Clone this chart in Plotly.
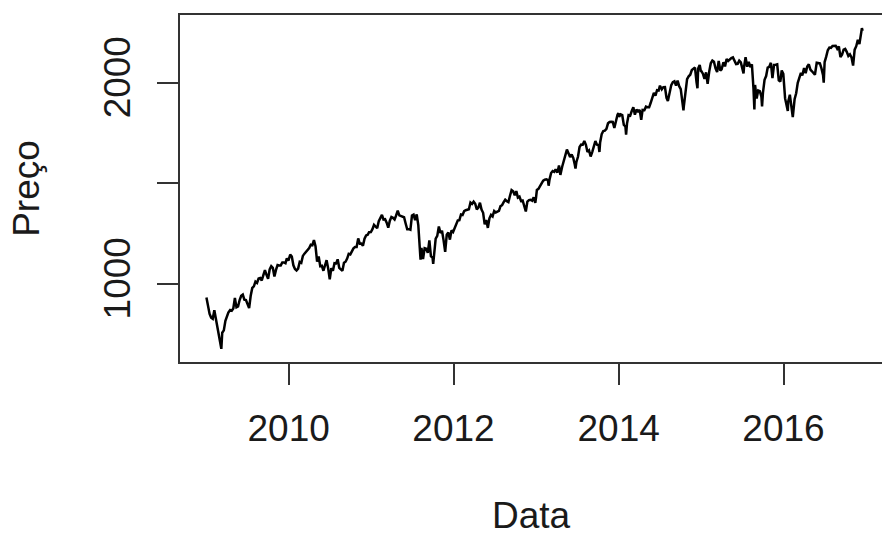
import plotly.graph_objects as go
import pandas as pd

# Weekly closing prices of the index, 2009-2016
week_dates = [
    # 2009
    "2009-01-02", "2009-01-09", "2009-01-16", "2009-01-23", "2009-01-30", "2009-02-06",
    "2009-02-13", "2009-02-20", "2009-02-27", "2009-03-06", "2009-03-09", "2009-03-13",
    "2009-03-20", "2009-03-27", "2009-04-03", "2009-04-09", "2009-04-17", "2009-04-24",
    "2009-05-01", "2009-05-08", "2009-05-15", "2009-05-22", "2009-05-29", "2009-06-05",
    "2009-06-12", "2009-06-19", "2009-06-26", "2009-07-02", "2009-07-10", "2009-07-17",
    "2009-07-24", "2009-07-31", "2009-08-07", "2009-08-14", "2009-08-21", "2009-08-28",
    "2009-09-04", "2009-09-11", "2009-09-18", "2009-09-25", "2009-10-02", "2009-10-09",
    "2009-10-16", "2009-10-23", "2009-10-30", "2009-11-06", "2009-11-13", "2009-11-20",
    "2009-11-27", "2009-12-04", "2009-12-11", "2009-12-18", "2009-12-24", "2009-12-31",
    # 2010
    "2010-01-08", "2010-01-15", "2010-01-22", "2010-01-29", "2010-02-05", "2010-02-12",
    "2010-02-19", "2010-02-26", "2010-03-05", "2010-03-12", "2010-03-19", "2010-03-26",
    "2010-04-02", "2010-04-09", "2010-04-16", "2010-04-23", "2010-04-30", "2010-05-07",
    "2010-05-14", "2010-05-21", "2010-05-28", "2010-06-04", "2010-06-11", "2010-06-18",
    "2010-06-25", "2010-07-02", "2010-07-09", "2010-07-16", "2010-07-23", "2010-07-30",
    "2010-08-06", "2010-08-13", "2010-08-20", "2010-08-27", "2010-09-03", "2010-09-10",
    "2010-09-17", "2010-09-24", "2010-10-01", "2010-10-08", "2010-10-15", "2010-10-22",
    "2010-10-29", "2010-11-05", "2010-11-12", "2010-11-19", "2010-11-26", "2010-12-03",
    "2010-12-10", "2010-12-17", "2010-12-23", "2010-12-31",
    # 2011
    "2011-01-07", "2011-01-14", "2011-01-21", "2011-01-28", "2011-02-04", "2011-02-11",
    "2011-02-18", "2011-02-25", "2011-03-04", "2011-03-11", "2011-03-18", "2011-03-25",
    "2011-04-01", "2011-04-08", "2011-04-15", "2011-04-21", "2011-04-29", "2011-05-06",
    "2011-05-13", "2011-05-20", "2011-05-27", "2011-06-03", "2011-06-10", "2011-06-17",
    "2011-06-24", "2011-07-01", "2011-07-08", "2011-07-15", "2011-07-22", "2011-07-29",
    "2011-08-05", "2011-08-08", "2011-08-12", "2011-08-19", "2011-08-26", "2011-09-02",
    "2011-09-09", "2011-09-16", "2011-09-23", "2011-09-30", "2011-10-03", "2011-10-07",
    "2011-10-14", "2011-10-21", "2011-10-28", "2011-11-04", "2011-11-11", "2011-11-18",
    "2011-11-25", "2011-12-02", "2011-12-09", "2011-12-16", "2011-12-23", "2011-12-30",
    # 2012
    "2012-01-06", "2012-01-13", "2012-01-20", "2012-01-27", "2012-02-03", "2012-02-10",
    "2012-02-17", "2012-02-24", "2012-03-02", "2012-03-09", "2012-03-16", "2012-03-23",
    "2012-03-30", "2012-04-06", "2012-04-13", "2012-04-20", "2012-04-27", "2012-05-04",
    "2012-05-11", "2012-05-18", "2012-05-25", "2012-06-01", "2012-06-08", "2012-06-15",
    "2012-06-22", "2012-06-29", "2012-07-06", "2012-07-13", "2012-07-20", "2012-07-27",
    "2012-08-03", "2012-08-10", "2012-08-17", "2012-08-24", "2012-08-31", "2012-09-07",
    "2012-09-14", "2012-09-21", "2012-09-28", "2012-10-05", "2012-10-12", "2012-10-19",
    "2012-10-26", "2012-11-02", "2012-11-09", "2012-11-16", "2012-11-23", "2012-11-30",
    "2012-12-07", "2012-12-14", "2012-12-21", "2012-12-28", "2012-12-31",
    # 2013
    "2013-01-04", "2013-01-11", "2013-01-18", "2013-01-25", "2013-02-01", "2013-02-08",
    "2013-02-15", "2013-02-22", "2013-02-25", "2013-03-01", "2013-03-08", "2013-03-15",
    "2013-03-22", "2013-03-28", "2013-04-05", "2013-04-12", "2013-04-18", "2013-04-26",
    "2013-05-03", "2013-05-10", "2013-05-17", "2013-05-24", "2013-05-31", "2013-06-07",
    "2013-06-14", "2013-06-21", "2013-06-24", "2013-06-28", "2013-07-05", "2013-07-12",
    "2013-07-19", "2013-07-26", "2013-08-02", "2013-08-09", "2013-08-16", "2013-08-23",
    "2013-08-30", "2013-09-06", "2013-09-13", "2013-09-20", "2013-09-27", "2013-10-04",
    "2013-10-08", "2013-10-11", "2013-10-18", "2013-10-25", "2013-11-01", "2013-11-08",
    "2013-11-15", "2013-11-22", "2013-11-29", "2013-12-06", "2013-12-13", "2013-12-20",
    "2013-12-27", "2013-12-31",
    # 2014
    "2014-01-03", "2014-01-10", "2014-01-17", "2014-01-24", "2014-01-31", "2014-02-03",
    "2014-02-07", "2014-02-14", "2014-02-21", "2014-02-28", "2014-03-07", "2014-03-14",
    "2014-03-21", "2014-03-28", "2014-04-04", "2014-04-11", "2014-04-17", "2014-04-25",
    "2014-05-02", "2014-05-09", "2014-05-16", "2014-05-23", "2014-05-30", "2014-06-06",
    "2014-06-13", "2014-06-20", "2014-06-27", "2014-07-03", "2014-07-11", "2014-07-18",
    "2014-07-25", "2014-08-01", "2014-08-07", "2014-08-15", "2014-08-22", "2014-08-29",
    "2014-09-05", "2014-09-12", "2014-09-19", "2014-09-26", "2014-10-03", "2014-10-10",
    "2014-10-15", "2014-10-17", "2014-10-24", "2014-10-31", "2014-11-07", "2014-11-14",
    "2014-11-21", "2014-11-28", "2014-12-05", "2014-12-12", "2014-12-16", "2014-12-19",
    "2014-12-26", "2014-12-31",
    # 2015
    "2015-01-02", "2015-01-09", "2015-01-16", "2015-01-23", "2015-01-30", "2015-02-06",
    "2015-02-13", "2015-02-20", "2015-02-27", "2015-03-06", "2015-03-13", "2015-03-20",
    "2015-03-27", "2015-04-02", "2015-04-10", "2015-04-17", "2015-04-24", "2015-05-01",
    "2015-05-08", "2015-05-15", "2015-05-22", "2015-05-29", "2015-06-05", "2015-06-12",
    "2015-06-19", "2015-06-26", "2015-07-02", "2015-07-08", "2015-07-10", "2015-07-17",
    "2015-07-24", "2015-07-31", "2015-08-07", "2015-08-14", "2015-08-21", "2015-08-25",
    "2015-08-28", "2015-09-04", "2015-09-11", "2015-09-18", "2015-09-25", "2015-09-28",
    "2015-10-02", "2015-10-09", "2015-10-16", "2015-10-23", "2015-10-30", "2015-11-06",
    "2015-11-13", "2015-11-20", "2015-11-27", "2015-12-04", "2015-12-11", "2015-12-18",
    "2015-12-24", "2015-12-31",
    # 2016
    "2016-01-08", "2016-01-15", "2016-01-20", "2016-01-22", "2016-01-29", "2016-02-05",
    "2016-02-11", "2016-02-19", "2016-02-26", "2016-03-04", "2016-03-11", "2016-03-18",
    "2016-03-24", "2016-04-01", "2016-04-08", "2016-04-15", "2016-04-22", "2016-04-29",
    "2016-05-06", "2016-05-13", "2016-05-19", "2016-05-27", "2016-06-03", "2016-06-10",
    "2016-06-17", "2016-06-24", "2016-06-27", "2016-07-01", "2016-07-08", "2016-07-15",
    "2016-07-22", "2016-07-29", "2016-08-05", "2016-08-12", "2016-08-19", "2016-08-26",
    "2016-09-02", "2016-09-09", "2016-09-16", "2016-09-23", "2016-09-30", "2016-10-07",
    "2016-10-14", "2016-10-21", "2016-10-28", "2016-11-04", "2016-11-11", "2016-11-18",
    "2016-11-25", "2016-12-02", "2016-12-09", "2016-12-13", "2016-12-16",
]

close_prices = [
    # 2009
    931.8, 890.4, 850.1, 831.9, 825.9, 868.6,
    826.8, 770.1, 735.1, 683.4, 676.5, 756.6,
    768.5, 815.9, 842.5, 856.6, 869.6, 866.2,
    877.5, 929.2, 882.9, 887.0, 919.1, 940.1,
    946.2, 921.2, 918.9, 896.4, 879.1, 940.4,
    979.3, 987.5, 1010.5, 1004.1, 1026.1, 1028.9,
    1016.4, 1042.7, 1068.3, 1044.4, 1025.2, 1071.5,
    1087.7, 1079.6, 1036.2, 1069.3, 1093.5, 1091.4,
    1091.5, 1105.9, 1106.4, 1102.5, 1126.5, 1115.1,
    # 2010
    1145.0, 1136.0, 1091.8, 1073.9, 1066.2, 1075.5,
    1109.2, 1104.5, 1138.7, 1150.0, 1159.9, 1166.6,
    1178.1, 1194.4, 1192.1, 1217.3, 1186.7, 1110.9,
    1135.7, 1087.7, 1089.4, 1064.9, 1091.6, 1117.5,
    1076.8, 1022.6, 1078.0, 1064.9, 1102.7, 1101.6,
    1121.6, 1079.3, 1071.7, 1064.6, 1104.5, 1109.6,
    1125.6, 1148.7, 1146.2, 1165.2, 1176.2, 1183.1,
    1183.3, 1225.9, 1199.2, 1199.7, 1189.4, 1224.7,
    1240.4, 1243.9, 1256.8, 1257.6,
    # 2011
    1271.5, 1293.2, 1283.4, 1276.3, 1310.9, 1329.2,
    1343.0, 1319.9, 1321.2, 1304.3, 1279.2, 1313.8,
    1332.4, 1328.2, 1319.7, 1337.4, 1363.6, 1340.2,
    1337.8, 1333.3, 1331.1, 1300.2, 1271.0, 1271.5,
    1268.4, 1339.7, 1344.0, 1316.1, 1345.0, 1292.3,
    1199.4, 1119.5, 1178.8, 1123.5, 1176.8, 1174.0,
    1154.2, 1216.0, 1136.4, 1131.4, 1099.2, 1155.5,
    1224.6, 1238.3, 1285.1, 1253.2, 1263.9, 1216.0,
    1158.7, 1244.3, 1255.2, 1219.7, 1265.3, 1257.6,
    # 2012
    1277.8, 1289.1, 1315.4, 1316.3, 1344.9, 1342.6,
    1361.2, 1365.7, 1370.0, 1370.9, 1404.2, 1397.1,
    1408.5, 1398.1, 1370.3, 1378.5, 1403.4, 1369.1,
    1353.4, 1295.2, 1317.8, 1278.0, 1325.7, 1342.8,
    1335.0, 1362.2, 1354.7, 1356.8, 1362.7, 1386.0,
    1391.0, 1405.9, 1418.2, 1411.1, 1406.6, 1437.9,
    1465.8, 1460.2, 1440.7, 1460.9, 1428.6, 1433.2,
    1411.9, 1414.2, 1379.9, 1359.9, 1409.2, 1416.2,
    1418.1, 1413.6, 1430.2, 1402.4, 1426.2,
    # 2013
    1466.5, 1472.1, 1486.0, 1503.0, 1513.2, 1517.9,
    1519.8, 1515.6, 1487.9, 1518.2, 1551.2, 1560.7,
    1556.9, 1569.2, 1553.3, 1588.9, 1541.6, 1582.2,
    1614.4, 1633.7, 1667.5, 1649.6, 1630.7, 1643.4,
    1626.7, 1592.4, 1573.1, 1606.3, 1631.9, 1680.2,
    1692.1, 1691.7, 1709.7, 1691.4, 1655.8, 1663.5,
    1633.0, 1655.2, 1688.0, 1709.9, 1691.8, 1690.5,
    1655.5, 1703.2, 1744.5, 1759.8, 1761.6, 1770.6,
    1798.2, 1804.8, 1805.8, 1805.1, 1775.3, 1818.3,
    1841.4, 1848.4,
    # 2014
    1831.4, 1842.4, 1838.7, 1790.3, 1782.6, 1741.9,
    1797.0, 1838.6, 1836.3, 1859.5, 1878.0, 1841.1,
    1866.5, 1857.6, 1865.1, 1815.7, 1864.9, 1863.4,
    1881.1, 1878.5, 1877.9, 1900.5, 1923.6, 1949.4,
    1936.2, 1962.9, 1961.0, 1985.4, 1967.6, 1978.2,
    1978.3, 1925.2, 1909.6, 1955.1, 1988.4, 2003.4,
    2007.7, 1985.5, 2010.4, 1982.9, 1967.9, 1906.1,
    1862.5, 1886.8, 1964.6, 2018.1, 2031.9, 2039.8,
    2063.5, 2067.6, 2075.4, 2002.3, 1972.7, 2070.7,
    2088.8, 2058.9,
    # 2015
    2058.2, 2044.8, 2019.4, 2051.8, 1995.0, 2055.5,
    2097.0, 2110.3, 2104.5, 2071.3, 2053.4, 2108.1,
    2061.0, 2067.0, 2102.1, 2081.2, 2117.7, 2108.3,
    2116.1, 2122.7, 2126.1, 2107.4, 2092.8, 2094.1,
    2110.0, 2101.5, 2076.8, 2046.7, 2076.6, 2126.6,
    2079.7, 2103.8, 2077.6, 2091.5, 1970.9, 1867.6,
    1988.9, 1921.2, 1961.1, 1958.0, 1931.3, 1881.8,
    1951.4, 2014.9, 2033.1, 2075.2, 2079.4, 2099.2,
    2023.0, 2089.2, 2090.1, 2091.7, 2012.4, 2005.6,
    2061.0, 2043.9,
    # 2016
    1922.0, 1880.3, 1859.3, 1906.9, 1940.2, 1880.1,
    1829.1, 1917.8, 1948.1, 2000.0, 2022.2, 2049.6,
    2035.9, 2072.8, 2047.6, 2080.7, 2091.6, 2065.3,
    2057.1, 2046.6, 2040.0, 2099.1, 2099.1, 2096.1,
    2071.2, 2037.4, 2000.5, 2103.0, 2129.9, 2161.7,
    2175.0, 2173.6, 2182.9, 2184.1, 2183.9, 2169.0,
    2180.0, 2127.8, 2139.2, 2164.7, 2168.3, 2153.7,
    2133.0, 2141.2, 2126.4, 2085.2, 2164.5, 2181.9,
    2213.4, 2192.0, 2259.5, 2271.7, 2258.1,
]

year_tick_dates = ["2010-01-01", "2012-01-01", "2014-01-01", "2016-01-01"]
year_tick_labels = ["2010", "2012", "2014", "2016"]
price_tick_values = [1000, 1500, 2000]
price_tick_labels = ["1000", "", "2000"]

dates = pd.to_datetime(week_dates)

FONT = "Liberation Sans, Arial, Helvetica, sans-serif"
INK = "#1a1a1a"

fig = go.Figure(
    go.Scatter(
        x=dates,
        y=close_prices,
        mode="lines",
        line=dict(color="black", width=2.5),
        hoverinfo="x+y",
    )
)

fig.update_layout(
    width=882,
    height=536,
    margin=dict(l=180, r=0, t=15, b=172),
    paper_bgcolor="white",
    plot_bgcolor="white",
    showlegend=False,
    font=dict(family=FONT, size=37, color=INK),
)

fig.update_xaxes(
    range=["2008-09-07", "2017-03-12"],
    tickmode="array",
    tickvals=year_tick_dates,
    ticktext=year_tick_labels,
    ticks="outside",
    ticklen=21,
    tickwidth=1.5,
    tickcolor="#333333",
    ticklabelstandoff=12,
    showline=True,
    mirror=True,
    linecolor="#333333",
    linewidth=1.5,
    showgrid=False,
    zeroline=False,
    title=dict(text="Data", standoff=61, font=dict(family=FONT, size=37, color=INK)),
)

fig.update_yaxes(
    range=[611, 2337],
    tickmode="array",
    tickvals=price_tick_values,
    ticktext=price_tick_labels,
    tickangle=-90,
    ticks="outside",
    ticklen=21,
    tickwidth=1.5,
    tickcolor="#333333",
    ticklabelstandoff=12,
    showline=True,
    mirror=False,
    linecolor="#333333",
    linewidth=1.5,
    showgrid=False,
    zeroline=False,
    title=dict(text="Preço", standoff=47, font=dict(family=FONT, size=37, color=INK)),
)

fig.write_html("out.html")
